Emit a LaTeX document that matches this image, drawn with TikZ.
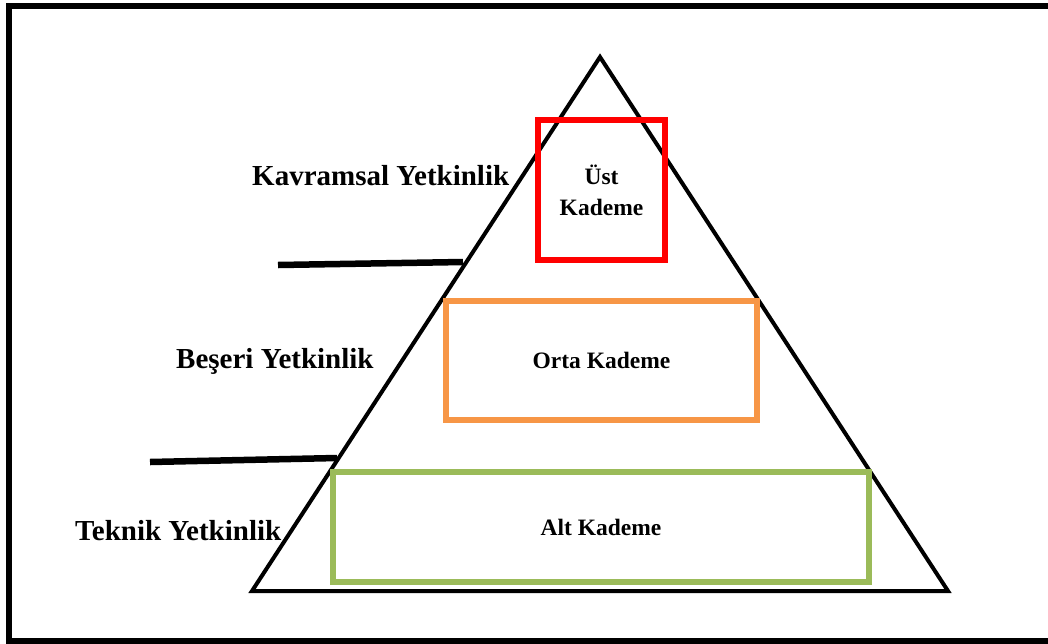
\documentclass[tikz,border=0pt]{standalone}
\usepackage{fontspec}
\setmainfont{Liberation Serif}
\begin{document}
\begin{tikzpicture}[x=1pt,y=-1pt,
  levelbox/.style={draw,line width=6pt,rectangle,inner sep=0pt,align=center,
    font=\bfseries\fontsize{23.5}{31}\selectfont},
  skill/.style={anchor=base west,inner sep=0pt,font=\bfseries\fontsize{29}{34}\selectfont},
  divider/.style={line width=6.5pt},
  pyramid/.style={line width=4pt,line join=miter}]
\definecolor{topred}{RGB}{255,0,0}
\definecolor{midorange}{RGB}{247,150,70}
\definecolor{lowgreen}{RGB}{155,187,89}
\useasboundingbox (0,0) rectangle (1048,643);
\clip (0,0) rectangle (1048,643);
% outer frame (right side runs past the page edge)
\draw[line width=6pt] (9,6) rectangle (1070,641);
% pyramid outline
\coordinate (apex) at (600,57);
\coordinate (baseL) at (252,591);
\coordinate (baseR) at (948,591);
\draw[pyramid] (baseL) -- (apex) -- (baseR) -- cycle;
% management levels
\node[levelbox,draw=topred,minimum width=127pt,minimum height=140pt] (ust) at (601.5,190) {Üst\\Kademe};
\node[levelbox,draw=midorange,minimum width=311pt,minimum height=119pt] (orta) at (601.5,360.5) {Orta Kademe};
\node[levelbox,draw=lowgreen,minimum width=536pt,minimum height=110pt] (alt) at (601,527) {Alt Kademe};
% skill labels
\node[skill] (kavramsal) at (252,185) {Kavramsal Yetkinlik};
\node[skill] (beseri) at (176,368) {Beşeri Yetkinlik};
\node[skill] (teknik) at (75,540) {Teknik Yetkinlik};
% dividers between the skill bands
\coordinate (d1a) at (278,265);
\coordinate (d1b) at (463,262);
\coordinate (d2a) at (150,462);
\coordinate (d2b) at (337,458);
\draw[divider] (d1a) -- (d1b);
\draw[divider] (d2a) -- (d2b);
\end{tikzpicture}
\end{document}
